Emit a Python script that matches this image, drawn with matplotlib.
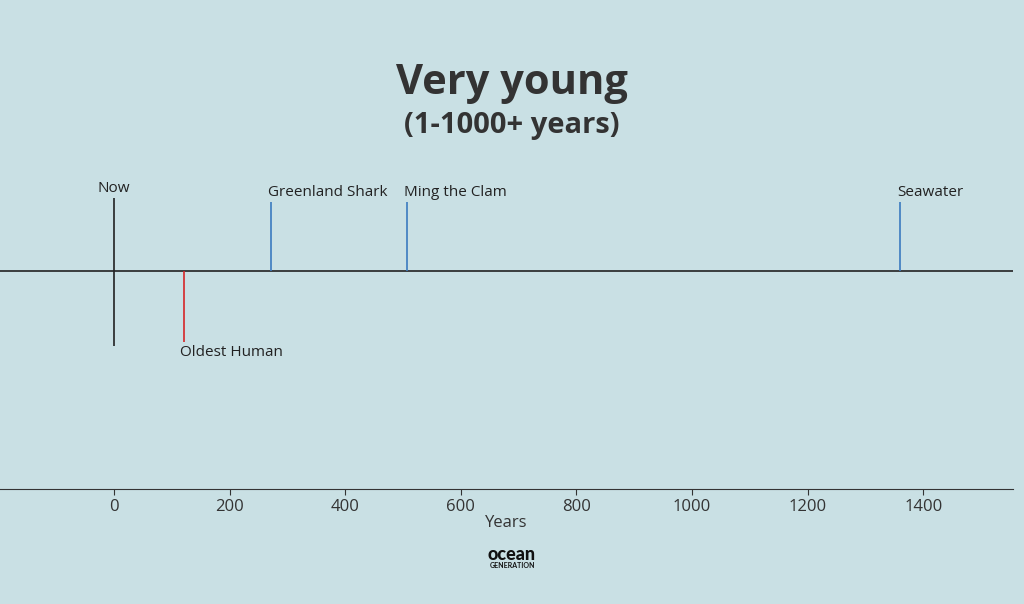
import matplotlib.pyplot as plt

# events: name, age in years, tick height (up +, down -), colour
names = ['Now', 'Oldest Human', 'Greenland Shark', 'Ming the Clam', 'Seawater']
years = [0, 122, 272, 507, 1360]
heights = [1.0, -0.97, 0.95, 0.95, 0.95]
colors = ['#222222', '#d62728', '#3b7bbf', '#3b7bbf', '#3b7bbf']
xticks = [0, 200, 400, 600, 800, 1000, 1200, 1400]

bg = '#c9e0e4'
fig = plt.figure(figsize=(10.24, 6.04), dpi=100, facecolor=bg)
ax = fig.add_axes([0, 1 - 489/604, 1013/1024, (489 - 160)/604])
ax.set_facecolor(bg)

ax.axhline(0, color='#222222', lw=1.2)
ax.vlines(0, -1.03, 1.0, color='#222222', lw=1.2)
for n, x, h, c in zip(names, years, heights, colors):
    if n != 'Now':
        ax.vlines(x, 0, h, color=c, lw=1.2)
    if h > 0:
        ha = 'center' if n == 'Now' else 'left'
        ax.text(x - (5 if ha == 'left' else 0), h + 0.02, n, ha=ha, va='bottom',
                fontsize=11, family='Open Sans', color='#222222')
    else:
        ax.text(x - 8, h - 0.05, n, ha='left', va='top',
                fontsize=11, family='Open Sans', color='#222222')

ax.set_xlim(-197, 1555)
ax.set_ylim(-2.99, 1.52)
ax.set_xticks(xticks)
ax.set_yticks([])
for s in ['top', 'left', 'right']:
    ax.spines[s].set_visible(False)
ax.spines['bottom'].set_color('#333333')
ax.tick_params(axis='x', labelsize=12, colors='#333333', length=4)
for t in ax.get_xticklabels():
    t.set_family('Open Sans')
ax.set_xlabel('Years', fontsize=12, family='Open Sans', color='#333333', labelpad=0)

fig.text(0.5, 1 - 83/604, 'Very young', ha='center', va='center',
         fontsize=30, weight='bold', family='Open Sans', color='#333333')
fig.text(0.5, 1 - 125/604, '(1-1000+ years)', ha='center', va='center',
         fontsize=21, weight='bold', family='Open Sans', color='#333333')

fig.text(512/1024, 1 - 554/604, 'ocean', ha='center', va='center',
         fontsize=13, weight='black', family='Lato', color='#111111')
fig.text(512/1024, 1 - 566/604, 'GENERATION', ha='center', va='center',
         fontsize=5, weight='bold', family='Lato', color='#111111')

fig.savefig('out.png', dpi=100, facecolor=bg)
